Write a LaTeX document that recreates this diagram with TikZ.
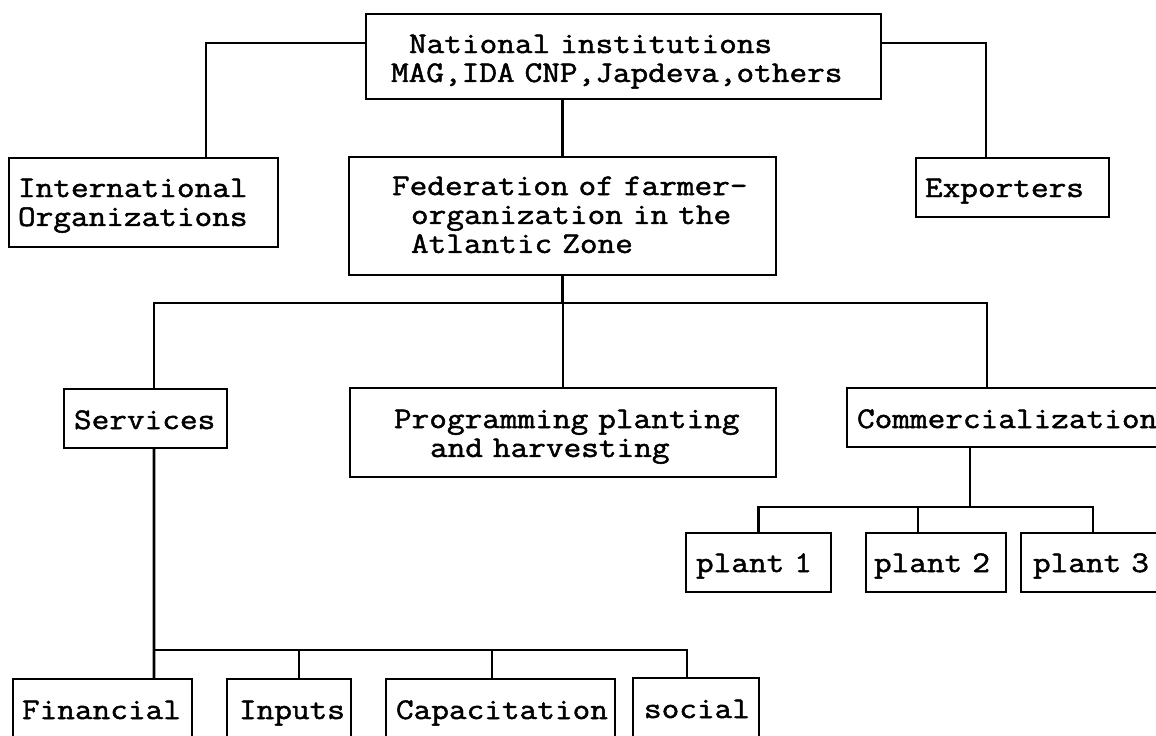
\documentclass[tikz,border=0pt]{standalone}
\usepackage{fontspec}
\newfontfamily\tf{Latin Modern Mono}[FakeStretch=1.143, FakeBold=1.6, WordSpace={1,0,0}]
\newcommand\tln[2]{\mbox{\hspace{#1}#2}}
\begin{document}
\begin{tikzpicture}[
  box/.style={draw, line width=2pt, rectangle, inner sep=0pt, outer sep=0pt,
    anchor=north west, align=left, font=\tf\fontsize{21.34pt}{20.6pt}\selectfont},
  link/.style={line width=2pt}]
\useasboundingbox (0,0) rectangle (28.9,-18.375);
\clip (0,0) rectangle (28.9,-18.375);

\node[box, text width=12.875cm, text height=0.975cm, text depth=1.15cm] (nat) at (9.15,-0.35)
  {\tln{1.075cm}{National institutions}\\\tln{0.625cm}{MAG,IDA CNP,Japdeva,others}};
\node[box, text width=6.725cm, text height=0.975cm, text depth=1.25cm] (intl) at (0.225,-3.95)
  {\tln{0.225cm}{International}\\\tln{0.225cm}{Organizations}};
\node[box, text width=10.675cm, text height=0.95cm, text depth=2.0cm] (fed) at (8.725,-3.925)
  {\tln{1.075cm}{Federation of farmer-}\\\tln{1.55cm}{organization in the}\\\tln{1.55cm}{Atlantic Zone}};
\node[box, text width=4.825cm, text height=0.975cm, text depth=0.5cm] (exp) at (22.9,-3.95)
  {\tln{0.225cm}{Exporters}};

\node[box, text width=4.075cm, text height=1.0cm, text depth=0.475cm] (services) at (1.6,-9.725)
  {\tln{0.25cm}{Services}};
\node[box, text width=10.65cm, text height=1.0cm, text depth=1.225cm] (prog) at (8.75,-9.7)
  {\tln{1.1cm}{Programming planting}\\\tln{2.0cm}{and harvesting}};
\node[box, text width=8.75cm, text height=1.0cm, text depth=0.475cm] (comm) at (21.175,-9.7)
  {\tln{0.25cm}{Commercialization}};

\node[box, text width=3.625cm, text height=0.975cm, text depth=0.5cm] (plant1) at (17.15,-13.325)
  {\tln{0.25cm}{plant 1}};
\node[box, text width=3.5cm, text height=0.975cm, text depth=0.5cm] (plant2) at (21.65,-13.325)
  {\tln{0.2cm}{plant 2}};
\node[box, text width=4.25cm, text height=0.975cm, text depth=0.5cm] (plant3) at (25.525,-13.325)
  {\tln{0.3cm}{plant 3}};

\node[box, text width=4.475cm, text height=1.0cm, text depth=0.75cm] (fin) at (0.325,-16.975)
  {\tln{0.225cm}{Financial}};
\node[box, text width=3.1cm, text height=1.0cm, text depth=0.75cm] (inputs) at (5.675,-16.975)
  {\tln{0.3cm}{Inputs}};
\node[box, text width=5.725cm, text height=1.0cm, text depth=0.75cm] (cap) at (9.65,-16.975)
  {\tln{0.25cm}{Capacitation}};
\node[box, text width=3.15cm, text height=1.0cm, text depth=0.75cm] (social) at (15.825,-16.95)
  {\tln{0.275cm}{social}};

% top level
\draw[link] ([yshift=0.3375cm]nat.west) -| ([xshift=1.5625cm]intl.north);
\draw[link] ([yshift=0.3375cm]nat.east) -| ([xshift=-0.6625cm]exp.north);
\draw[link] (fed.north |- nat.south) -- (fed.north);
% federation branches
\draw[link] (fed.south) -- ++(0,-0.7) coordinate (j1);
\draw[link] ([xshift=0.2125cm]services.north) |- (j1) -| ([xshift=-0.875cm]comm.north);
\draw[link] (prog.north) -- (prog.north |- j1);
% services branches
\draw[link] ([xshift=0.2125cm]services.south) -- ([xshift=1.2875cm]fin.north);
\draw[link] ([xshift=1.2875cm,yshift=0.725cm]fin.north) -| ([xshift=-0.225cm]social.north);
\draw[link] ([xshift=0.25cm]inputs.north) -- ++(0,0.725);
\draw[link] ([xshift=-0.2125cm]cap.north) -- ++(0,0.725);
% commercialization branches
\draw[link] ([xshift=-1.3cm]comm.south) -- ++(0,-1.5);
\draw[link] (plant1.north) -- ++(0,0.65) -| ([xshift=-0.325cm]plant3.north);
\draw[link] ([xshift=-0.45cm]plant2.north) -- ++(0,0.65);
\end{tikzpicture}
\end{document}
